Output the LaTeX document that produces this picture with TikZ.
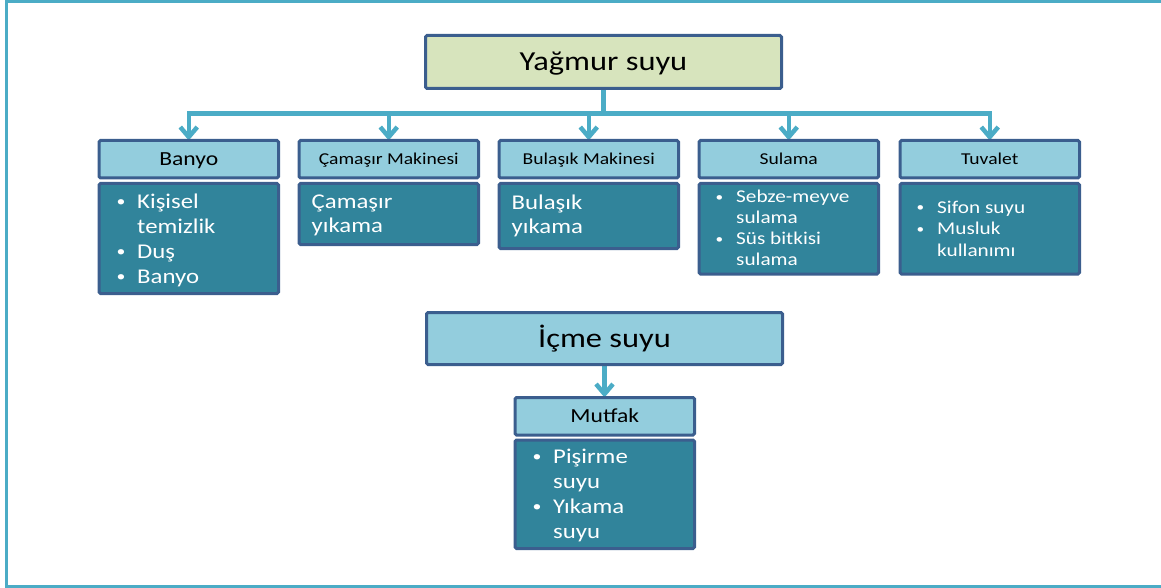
\documentclass[tikz,border=0pt]{standalone}
\usepackage{graphicx}
\usepackage{fontspec}
\setmainfont{Carlito}[FakeStretch=1.18]
\usetikzlibrary{arrows.meta}

\definecolor{framec}{HTML}{4BACC6}
\definecolor{arrowc}{HTML}{4BACC6}
\definecolor{edgec}{HTML}{3B5E8E}
\definecolor{greenfill}{HTML}{D7E4BD}
\definecolor{headfill}{HTML}{93CDDD}
\definecolor{bodyfill}{HTML}{31849B}

\pgfdeclarelayer{bg}
\pgfsetlayers{bg,main}

% small round bullet followed by a fixed indent
\newcommand\bulletmark{\makebox[21pt][l]{\hspace*{0.5pt}\raisebox{0.08em}{\scalebox{0.72}{•}}}}
\newcommand\hang{\hspace*{21pt}}

\tikzset{
  boxbase/.style={draw=edgec, line width=3pt, rounded corners=1.5pt,
    outer sep=0pt, inner sep=0pt, anchor=north west},
  topbox/.style={boxbase, fill=greenfill, minimum width=356pt, minimum height=53pt,
    font=\fontsize{27.5}{33}\selectfont, text height=17.3pt, text depth=0pt},
  drinkbox/.style={topbox, fill=headfill, minimum height=52pt},
  headbig/.style={boxbase, fill=headfill, minimum width=179.5pt, minimum height=37.5pt,
    font=\fontsize{20}{24}\selectfont, text height=12.6pt, text depth=0pt},
  headsmall/.style={headbig, font=\fontsize{16.6}{20}\selectfont, text height=10.5pt},
  bodybox/.style={boxbase, fill=bodyfill, minimum width=179.5pt},
  bodytext/.style={anchor=base west, inner sep=0pt, text=white},
  bodylarge/.style={bodytext, font=\fontsize{21}{24.5}\selectfont},
  bodysmall/.style={bodytext, font=\fontsize{18}{20.8}\selectfont},
  conn/.style={draw=arrowc, line width=4.5pt, line cap=rect},
  arr/.style={draw=arrowc, line width=4.5pt, -{Straight Barb[length=10pt,width=17pt]}},
  framepen/.style={draw=framec, line width=2.8pt}
}

\begin{document}
\begin{tikzpicture}[x=1pt, y=-1pt]
\useasboundingbox (0,0) rectangle (1161,588);

% page frame, open on the right
\draw[framepen] (1161,1.2) -- (6.5,1.2) -- (6.5,586.8) -- (1161,586.8);

% rain water and its uses
\node[topbox] (rain) at (425.5,35.5) {Yağmur suyu};

\node[headbig]   (h1) at (99,140.5)  {Banyo};
\node[headsmall] (h2) at (299,140.5) {Çamaşır Makinesi};
\node[headsmall] (h3) at (499,140.5) {Bulaşık Makinesi};
\node[headsmall] (h4) at (699,140.5) {Sulama};
\node[headsmall] (h5) at (900,140.5) {Tuvalet};

\node[bodybox, minimum height=110pt] (b1) at (99,183.5)  {};
\node[bodybox, minimum height=61pt]  (b2) at (299,183.5) {};
\node[bodybox, minimum height=65pt]  (b3) at (499,183.5) {};
\node[bodybox, minimum height=90.5pt] (b4) at (699,183.5) {};
\node[bodybox, minimum height=90.5pt] (b5) at (900,183.5) {};

\node[bodylarge, font=\fontsize{21}{25}\selectfont] (t1) at (116,208)
  {\parbox[t]{160pt}{\raggedright\bulletmark Kişisel\\\hang temizlik\\\bulletmark Duş\\\bulletmark Banyo}};
\node[bodylarge] (t2) at (311.5,208) {\parbox[t]{160pt}{\raggedright Çamaşır\\yıkama}};
\node[bodylarge] (t3) at (511.5,209.5) {\parbox[t]{160pt}{\raggedright Bulaşık\\yıkama}};
\node[bodysmall] (t4) at (715,203)
  {\parbox[t]{160pt}{\raggedright\bulletmark Sebze-meyve\\\hang sulama\\\bulletmark Süs bitkisi\\\hang sulama}};
\node[bodysmall, font=\fontsize{18}{21.5}\selectfont] (t5) at (916,213)
  {\parbox[t]{160pt}{\raggedright\bulletmark Sifon suyu\\\bulletmark Musluk\\\hang kullanımı}};

% drinking water
\node[drinkbox] (drink) at (426.5,312.5) {İçme suyu};
\node[headbig] (mh) at (515,397.5) {Mutfak};
\node[bodybox, minimum height=108.5pt] (mb) at (515,440) {};
\node[bodylarge, font=\fontsize{21}{25}\selectfont] (mt) at (532,463.5)
  {\parbox[t]{160pt}{\raggedright\bulletmark Pişirme\\\hang suyu\\\bulletmark Yıkama\\\hang suyu}};

% connectors behind the boxes
\begin{pgfonlayer}{bg}
  \coordinate (bus) at (0,113.5);
  \draw[conn] (rain.south) -- (rain.south |- bus);
  \draw[conn] (h1.north |- bus) -- (h5.north |- bus);
  \foreach \h in {h1,h2,h3,h4,h5}
    \draw[arr] (\h.north |- bus) -- (\h.north);
  \draw[arr] (drink.south) -- (drink.south |- mh.north);
\end{pgfonlayer}
\end{tikzpicture}
\end{document}
